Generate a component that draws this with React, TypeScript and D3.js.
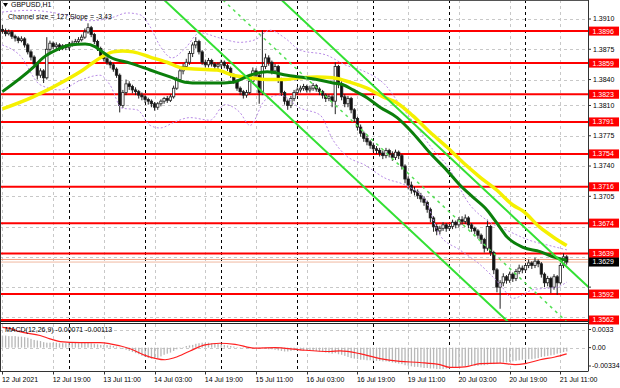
import React from 'react';
import * as d3 from 'd3';

// hour index of each bar counted from 12 Jul 00:00 (trading hours only)
const firstBar = 3;
const firstOpen = 898; // prices stored as pips above 1.3000

const closes = [
  896, 893, 895, 890, 888, 885, 887, 880, 872, 866,
  858, 845, 850, 842, 875, 882, 878, 880, 876, 879,
  877, 880, 882, 884, 886, 889, 895, 900, 892, 884,
  876, 868, 864, 860, 857, 852, 845, 810, 825, 835,
  832, 828, 826, 822, 820, 817, 815, 812, 808, 812,
  815, 818, 816, 820, 830, 840, 850, 855, 860, 870,
  880, 884, 872, 860, 857, 862, 858, 855, 857, 860,
  856, 853, 845, 838, 830, 826, 822, 825, 838, 850,
  845, 825, 855, 865, 860, 850, 855, 840, 825, 815,
  810, 818, 825, 828, 830, 832, 828, 830, 833, 829,
  826, 822, 818, 820, 815, 855, 835, 820, 812, 818,
  805, 795, 785, 778, 772, 768, 764, 760, 758, 755,
  752, 758, 754, 750, 756, 752, 740, 725, 718, 712,
  710, 706, 702, 698, 690, 680, 670, 665, 668, 672,
  668, 670, 675, 672, 678, 676, 680, 672, 668, 665,
  660, 655, 645, 670, 640, 620, 600, 605, 612, 608,
  615, 610, 618, 622, 620, 625, 628, 625, 630, 627,
  615, 605, 610, 600, 612, 605, 625, 635, 629,
];

const highs = [
  903, 899, 898, 897, 892, 890, 890, 889, 882, 874,
  868, 860, 853, 852, 889, 885, 884, 883, 882, 881,
  881, 883, 885, 887, 889, 892, 899, 905, 902, 894,
  886, 878, 871, 866, 862, 859, 854, 847, 828, 840,
  838, 834, 831, 828, 825, 822, 819, 817, 814, 814,
  817, 820, 821, 823, 833, 843, 853, 858, 864, 873,
  883, 889, 886, 874, 863, 865, 864, 860, 860, 863,
  862, 858, 855, 847, 840, 832, 828, 828, 841, 854,
  853, 847, 897, 870, 868, 862, 858, 857, 842, 827,
  817, 821, 828, 831, 833, 835, 834, 833, 836, 835,
  831, 828, 824, 823, 822, 860, 857, 838, 823, 821,
  820, 807, 797, 788, 780, 775, 770, 767, 763, 761,
  758, 761, 760, 757, 759, 758, 754, 742, 728, 722,
  716, 713, 709, 705, 700, 692, 682, 673, 671, 675,
  674, 673, 678, 677, 681, 682, 684, 682, 674, 670,
  667, 662, 657, 678, 672, 642, 622, 608, 616, 614,
  618, 617, 621, 626, 625, 628, 632, 630, 634, 632,
  629, 617, 613, 612, 615, 614, 628, 639, 637,
];

const lows = [
  893, 890, 891, 887, 884, 882, 883, 877, 869, 862,
  855, 840, 842, 836, 840, 872, 875, 875, 873, 874,
  874, 875, 878, 880, 882, 884, 887, 893, 889, 881,
  873, 865, 861, 857, 853, 849, 842, 802, 807, 822,
  828, 824, 822, 818, 816, 813, 811, 808, 804, 805,
  809, 812, 813, 814, 818, 828, 837, 846, 852, 857,
  866, 876, 869, 857, 854, 854, 855, 852, 852, 854,
  853, 850, 842, 835, 827, 822, 818, 819, 823, 836,
  841, 812, 822, 852, 856, 846, 847, 836, 821, 811,
  805, 807, 815, 822, 825, 827, 825, 825, 827, 826,
  822, 818, 814, 815, 808, 800, 830, 816, 808, 808,
  801, 791, 781, 774, 768, 764, 760, 756, 754, 751,
  748, 749, 750, 746, 747, 748, 736, 720, 713, 708,
  706, 702, 698, 694, 686, 675, 664, 660, 661, 665,
  664, 665, 667, 668, 669, 672, 673, 668, 664, 661,
  656, 650, 640, 642, 636, 615, 594, 575, 601, 604,
  605, 606, 607, 615, 616, 617, 622, 621, 622, 623,
  611, 600, 601, 593, 597, 591, 603, 622, 626,
];

// MACD main (histogram), units of 0.0001
const macdMain = [
  22, 22, 21, 21, 21, 20, 20, 19, 18, 16,
  14, 13, 12, 10,
  9, 9, 9, 9, 8, 8, 8, 9, 9, 9, 8, 9, 9, 9,
  8, 7, 6, 5, 5, 5,
  4, 3, 2, 0,
  -2, -4, -6, -8, -10, -12,
  -15, -17, -19, -20, -20, -19,
  -16, -13, -11, -9, -6,
  -3, -1, 1, 3, 4,
  5, 7, 8, 9, 9, 9, 8, 8, 7, 6, 5,
  4, 3, 2, 1, 0, 0, -1,
  0, 1, 0, -2, -1, -2, -3, -3, -4, -5,
  -6, -7, -7, -6, -5, -5, -5, -5,
  -5, -5, -6, -6, -7, -8, -9, -10,
  -11, -10, -12, -13, -15, -17, -19,
  -20, -21, -22, -22, -23, -23, -24, -24, -24,
  -25, -25, -26, -27, -28, -29, -30, -32, -33,
  -34, -35, -35, -36, -37, -37, -38, -38, -39,
  -39, -39, -38, -38, -37, -36, -35, -34, -34,
  -33, -33, -33, -33, -32, -32, -31,
  -30, -30, -29, -28, -27, -27, -26, -25,
  -24, -23, -22, -22, -21, -21, -20, -19,
  -17, -16, -15, -14, -13, -11, -10, -8, -7,
];

// [bar, value*1e4]
const macdSignal: [number, number][] = [
  [3, 37], [5.4, 35], [8.5, 29], [14.9, 22], [18, 16], [21.2, 11], [27.5, 9], [33.8, 9],
  [37, 7], [43.3, -2], [48, -14], [54.3, -22], [57.4, -18], [62.2, -6], [66.9, 5], [71.6, 8],
  [76.4, 6], [82.7, -1], [89, 0], [96.9, -4], [106.3, -7], [109.5, -6], [115.8, -11],
  [122.1, -20], [128.4, -25], [134.7, -27], [141, -31], [144.2, -36], [148.9, -35],
  [153.7, -29], [160, -28], [164.7, -31], [167.9, -29], [172.6, -22], [177.3, -17], [181, -11.3],
];

// [bar, pips]
const maGreen: [number, number][] = [
  [3, 826], [12.7, 854], [15.8, 865], [21.2, 876], [24.3, 880], [29.1, 881], [32.2, 878],
  [33.8, 874], [36.9, 866], [43.3, 859], [49.6, 851], [55.9, 843], [60.6, 837], [65.3, 836],
  [70.1, 836], [75.7, 837], [81.1, 845], [86.5, 849], [92.8, 845], [96.9, 843], [102.2, 840],
  [107.3, 836], [110.4, 834], [113.6, 828], [118, 819], [122.1, 808], [127.5, 796],
  [132.5, 778], [137.9, 755], [143.2, 735], [147.3, 718], [151.4, 704], [155.9, 689],
  [159, 674], [162.2, 658], [167.2, 646], [172.6, 641], [176.7, 635], [181, 631],
];

const maYellow: [number, number][] = [
  [3, 806], [12.7, 820], [23.4, 840], [28.4, 851], [33.8, 865], [37.9, 872], [41, 873],
  [44.2, 872], [49.6, 866], [54.9, 860], [60, 853], [65.3, 852], [70.7, 851], [75.7, 845],
  [81.1, 842], [86.5, 840], [91.5, 840], [96.9, 842], [102.2, 843], [107.3, 842], [112.6, 837],
  [118, 830], [123.1, 820], [127.5, 813], [132.5, 798], [137.9, 779], [143.2, 762],
  [148.3, 744], [153.7, 727], [159, 712], [164, 695], [167.2, 688], [172.6, 669],
  [176.7, 658], [181, 648],
];

const bandUpper: [number, number][] = [
  [2.9, 918], [11.7, 920], [21.2, 916], [30.6, 908], [37.9, 912], [42.3, 917], [46.4, 915],
  [49.6, 901], [52.7, 879], [56.5, 865], [60.6, 876], [65.3, 894], [71.6, 888], [77.9, 883],
  [82.7, 886], [87.4, 897], [92.1, 888], [96.9, 874], [105.4, 868], [111.1, 857], [117.4, 849],
  [123.7, 834], [128.4, 811], [133.8, 785], [138.8, 759], [143.2, 741], [150.5, 695],
  [156.8, 675], [163.1, 664], [169.4, 654], [175.7, 648], [181.1, 643],
];

const bandLower: [number, number][] = [
  [2.9, 880], [8.5, 868], [14.9, 834], [21.2, 828], [27.5, 839], [33.8, 845], [36.9, 834],
  [40.7, 807], [45.5, 805], [49.6, 787], [52.7, 784], [57.4, 791], [62.2, 796], [68.5, 793],
  [73.2, 811], [77.9, 802], [81.1, 787], [85.8, 816], [90.6, 822], [96.9, 807], [103.2, 799],
  [107.3, 770], [111.1, 753], [117.4, 741], [123.7, 726], [130, 718], [136.3, 701], [141, 660],
  [147.3, 643], [153.7, 626], [160, 603], [164, 587], [170.4, 597], [177.9, 600], [181.1, 606],
];

const levels = [1.3896, 1.3859, 1.3823, 1.3791, 1.3754, 1.3716, 1.3674, 1.3639, 1.3592, 1.3562];
const priceTicks = [1.391, 1.3875, 1.384, 1.381, 1.3775, 1.374, 1.3705, 1.367, 1.3635, 1.36, 1.3565];
const timeTicks: [number, string][] = [
  [3, '12 Jul 2021'], [19, '12 Jul 19:00'], [35, '13 Jul 11:00'], [51, '14 Jul 03:00'],
  [67, '14 Jul 19:00'], [83, '15 Jul 11:00'], [99, '16 Jul 03:00'], [115, '16 Jul 19:00'],
  [131, '19 Jul 11:00'], [147, '20 Jul 03:00'], [163, '20 Jul 19:00'], [179, '21 Jul 11:00'],
];
const daySeparators = [24, 48, 72, 96, 120, 144, 168];
const macdTicks: [number, string][] = [[0.0033, '0.0033'], [0, '0.00'], [-0.00334, '-0.00334']];
const lastPrice = 1.3629;
const askPrice = 1.3632;
const channelSize = 127;
const channelSlope = -3.43;
const channelAnchor: [number, number] = [98, 908.2]; // upper line

const font = "'Liberation Sans', Arial, sans-serif";
const px = (v: number) => 1.3 + v / 10000;

const App = () => {
  const plotR = 588;
  const priceBottom = 321.5;
  const macdTop = 323.5;
  const macdBottom = 371.5;

  const x = d3.scaleLinear().domain([2.24, 187.72]).range([0, plotR]);
  const y = d3.scaleLinear().domain([1.3562, 1.391]).range([320, 19]);
  const ym = d3.scaleLinear().domain([-0.00334, 0.0033]).range([366, 329.5]);

  const priceLine = d3.line<[number, number]>()
    .x(d => x(d[0]))
    .y(d => y(px(d[1])))
    .curve(d3.curveMonotoneX);
  const straight = d3.line<[number, number]>()
    .x(d => x(d[0]))
    .y(d => y(px(d[1])));
  const sigLine = d3.line<[number, number]>()
    .x(d => x(d[0]))
    .y(d => ym(d[1] / 10000))
    .curve(d3.curveMonotoneX);

  const chan = (h: number, off: number) => channelAnchor[1] + channelSlope * (h - channelAnchor[0]) - off;
  const chanLine = (off: number) => straight([[0, chan(0, off)], [190, chan(190, off)]]) || '';

  const candles = closes.map((c, i) => ({
    h: firstBar + i,
    o: i === 0 ? firstOpen : closes[i - 1],
    c,
    hi: highs[i],
    lo: lows[i],
  }));

  // tick labels hidden behind the level boxes are not drawn
  const boxed = [...levels, lastPrice];
  const visibleTicks = priceTicks.filter(t => boxed.every(l => Math.abs(y(l) - y(t)) > 8));

  return (
    <div style={{ position: 'absolute', left: 0, top: 0, width: 620, height: 388, background: '#fff' }}>
      <svg width={620} height={388} style={{ display: 'block' }} fontFamily={font}>
        <defs>
          <clipPath id="pclip"><rect x={0} y={0} width={plotR} height={priceBottom} /></clipPath>
          <clipPath id="mclip"><rect x={0} y={macdTop} width={plotR} height={macdBottom - macdTop} /></clipPath>
        </defs>

        {/* grid */}
        {priceTicks.map(t => (
          <line key={'g' + t} x1={0} x2={plotR} y1={Math.round(y(t)) + 0.5} y2={Math.round(y(t)) + 0.5}
            stroke="#c8c8c8" strokeDasharray="3,3" />
        ))}
        {timeTicks.map(([h]) => (
          <line key={'v' + h} x1={Math.round(x(h)) + 0.5} x2={Math.round(x(h)) + 0.5} y1={0} y2={macdBottom}
            stroke="#c8c8c8" strokeDasharray="3,3" />
        ))}
        {[0.0033, 0].map(t => (
          <line key={'mg' + t} x1={0} x2={plotR} y1={Math.round(ym(t)) + 0.5} y2={Math.round(ym(t)) + 0.5}
            stroke="#c8c8c8" strokeDasharray="3,3" />
        ))}
        {daySeparators.map(h => (
          <line key={'d' + h} x1={Math.round(x(h)) + 0.5} x2={Math.round(x(h)) + 0.5} y1={0} y2={macdBottom}
            stroke="#000" strokeDasharray="3,3" />
        ))}

        <g clipPath="url(#pclip)">
          {/* support / resistance levels */}
          {levels.map(l => (
            <line key={'l' + l} x1={0} x2={plotR} y1={y(l)} y2={y(l)} stroke="#ff0000" strokeWidth={2} />
          ))}
          <line x1={0} x2={plotR} y1={y(askPrice)} y2={y(askPrice)} stroke="#f4a080" strokeWidth={1} />
          <line x1={0} x2={plotR} y1={y(lastPrice)} y2={y(lastPrice)} stroke="#f0b8a0" strokeWidth={1} />

          {/* candles */}
          {candles.map(d => {
            const cx = x(d.h);
            const up = d.c >= d.o;
            const top = y(px(Math.max(d.o, d.c)));
            const bot = y(px(Math.min(d.o, d.c)));
            return (
              <g key={'c' + d.h}>
                <line x1={cx} x2={cx} y1={y(px(d.hi))} y2={y(px(d.lo))} stroke="#222" strokeWidth={1} />
                <rect x={cx - 1.2} y={top} width={2.4} height={Math.max(0.8, bot - top)}
                  fill={up ? '#fff' : '#111'} stroke="#222" strokeWidth={0.8} />
              </g>
            );
          })}

          {/* bands */}
          <path d={priceLine(bandUpper) || ''} fill="none" stroke="#b98ce6" strokeWidth={1} strokeDasharray="2,2" />
          <path d={priceLine(bandLower) || ''} fill="none" stroke="#b98ce6" strokeWidth={1} strokeDasharray="2,2" />

          {/* moving averages */}
          <path d={priceLine(maYellow) || ''} fill="none" stroke="#f5f000" strokeWidth={3.5} />
          <path d={priceLine(maGreen) || ''} fill="none" stroke="#0b7f0b" strokeWidth={3} />

          {/* regression channel */}
          <path d={chanLine(0)} fill="none" stroke="#33e033" strokeWidth={2} />
          <path d={chanLine(channelSize)} fill="none" stroke="#33e033" strokeWidth={2} />
          <path d={chanLine(channelSize / 2)} fill="none" stroke="#55e055" strokeWidth={1.5} strokeDasharray="3,4" />
        </g>

        {/* MACD */}
        <g clipPath="url(#mclip)">
          {macdMain.map((v, i) => {
            const h = firstBar + i;
            const y0 = ym(0);
            const y1 = ym(v / 10000);
            return (
              <rect key={'m' + h} x={x(h) - 0.6} y={Math.min(y0, y1)} width={1.3}
                height={Math.max(0.5, Math.abs(y1 - y0))} fill="#b8b8b8" />
            );
          })}
          <path d={sigLine(macdSignal) || ''} fill="none" stroke="#ff2020" strokeWidth={1.2} />
        </g>

        {/* frames */}
        <line x1={0.5} x2={0.5} y1={0} y2={macdBottom} stroke="#333" />
        <line x1={0} x2={plotR} y1={0.5} y2={0.5} stroke="#555" />
        <line x1={plotR + 0.5} x2={plotR + 0.5} y1={0} y2={macdBottom} stroke="#333" />
        <line x1={0} x2={plotR} y1={priceBottom} y2={priceBottom} stroke="#222" />
        <line x1={0} x2={plotR} y1={macdTop} y2={macdTop} stroke="#222" />
        <line x1={0} x2={plotR} y1={macdBottom} y2={macdBottom} stroke="#333" />

        {/* right price axis */}
        {priceTicks.map(t => (
          <line key={'tk' + t} x1={plotR} x2={plotR + 3} y1={y(t)} y2={y(t)} stroke="#333" />
        ))}
        {visibleTicks.map(t => (
          <text key={'t' + t} x={593} y={y(t)} dy="0.35em" fontSize={7} fill="#000">{t.toFixed(4)}</text>
        ))}
        {levels.map(l => (
          <g key={'lb' + l}>
            <rect x={589} y={y(l) - 4.5} width={30} height={9} fill="#ff0000" />
            <text x={592.5} y={y(l)} dy="0.35em" fontSize={7} fill="#fff">{l.toFixed(4)}</text>
          </g>
        ))}
        <rect x={589} y={y(lastPrice) - 4.5} width={30} height={9} fill="#000" />
        <text x={592.5} y={y(lastPrice)} dy="0.35em" fontSize={7} fill="#fff">{lastPrice.toFixed(4)}</text>

        {/* MACD axis */}
        {macdTicks.map(([v, s]) => (
          <g key={'mt' + s}>
            <line x1={plotR} x2={plotR + 3} y1={ym(v)} y2={ym(v)} stroke="#333" />
            <text x={592} y={ym(v)} dy="0.35em" fontSize={7} fill="#000">{s}</text>
          </g>
        ))}

        {/* time axis */}
        {timeTicks.map(([h, s]) => (
          <g key={'tt' + h}>
            <line x1={Math.round(x(h)) + 0.5} x2={Math.round(x(h)) + 0.5} y1={macdBottom} y2={macdBottom + 3} stroke="#333" />
            <text x={x(h) - 0.5} y={380} dy="0.35em" fontSize={7} fill="#000">{s}</text>
          </g>
        ))}

        {/* labels */}
        <path d="M3,3 L8,3 L5.5,7 Z" fill="#000" />
        <text x={11} y={5} dy="0.35em" fontSize={7} fill="#000">GBPUSD,H1</text>
        <text x={8} y={17} dy="0.35em" fontSize={7} fill="#000">
          {`Channel size = ${channelSize} Slope = ${channelSlope.toFixed(2)}`}
        </text>
        <text x={5} y={330} dy="0.35em" fontSize={7} fill="#000">MACD(12,26,9) -0.00071 -0.00113</text>
      </svg>
    </div>
  );
};

export default App;
